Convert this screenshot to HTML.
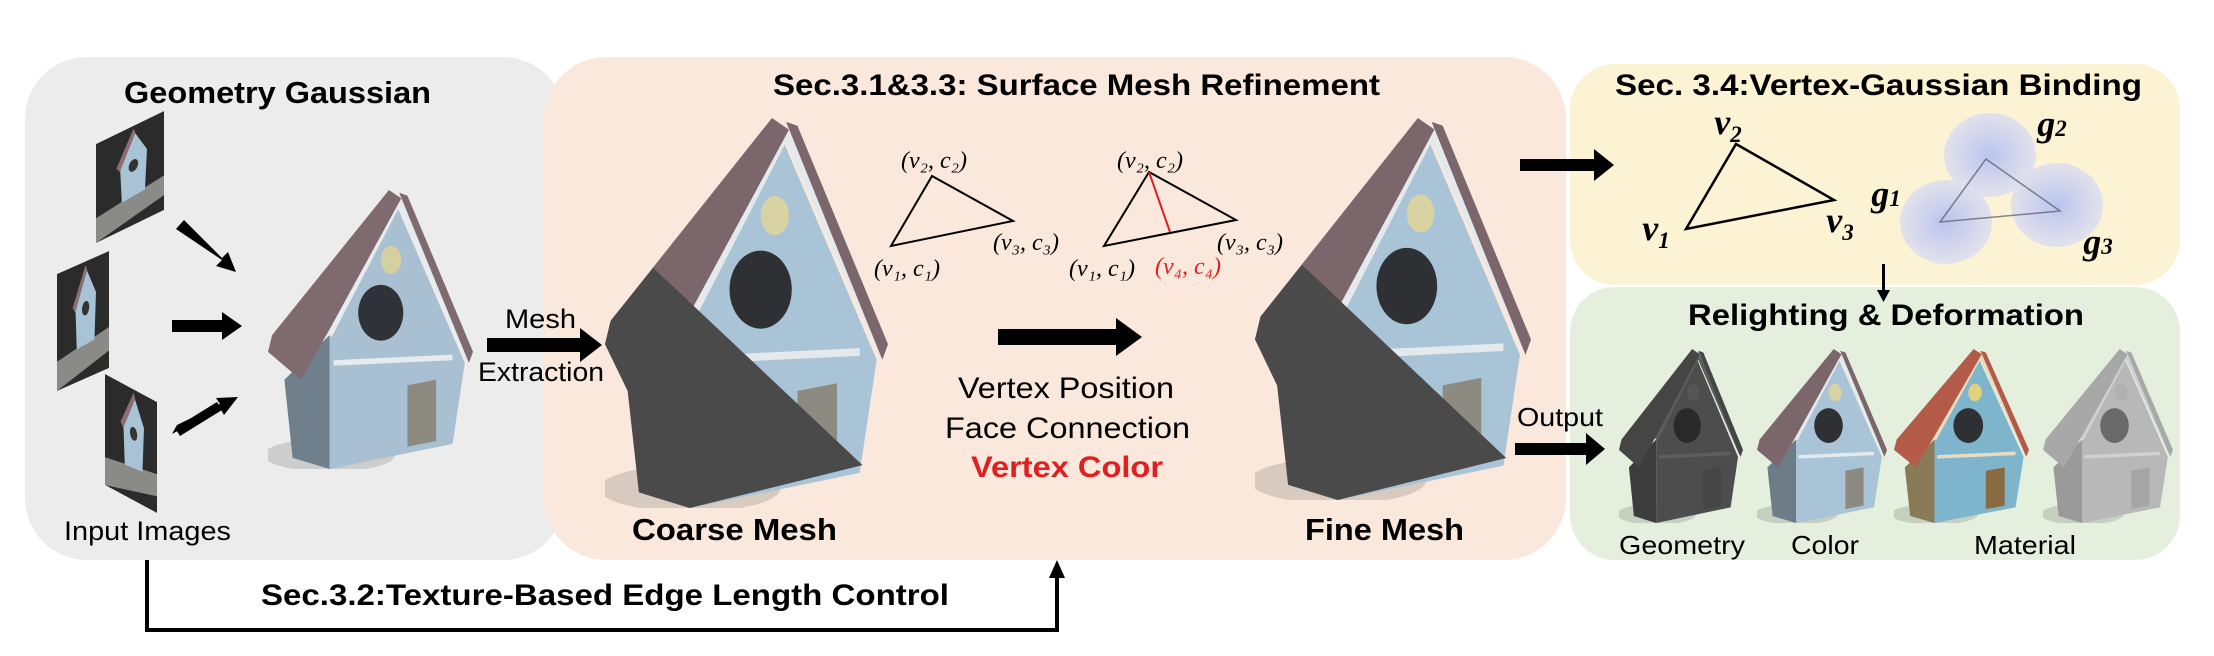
<!DOCTYPE html>
<html><head><meta charset="utf-8"><style>
html,body{margin:0;padding:0;background:#fff}
svg{display:block}
.b{font-family:"Liberation Sans",Arial,sans-serif;font-weight:bold}
.n{font-family:"Liberation Sans",Arial,sans-serif}
.m{font-family:"Liberation Serif",serif;font-style:italic}
</style></head><body>
<svg width="2214" height="656" viewBox="0 0 2214 656" xmlns="http://www.w3.org/2000/svg">
<defs>
<symbol id="house" viewBox="0 0 100 100" preserveAspectRatio="none">
<ellipse cx="30" cy="95" rx="32" ry="6" fill="rgba(0,0,0,0.13)"/>
<polygon points="8,68 30,52 30,100 12,96" style="fill:var(--side)"/>
<polygon points="63,6 96,62 90,91 30,100 30,52" style="fill:var(--wall)"/>
<polyline points="30,52 64,4 98,60" fill="none" style="stroke:var(--trim)" stroke-width="2.5"/>
<line x1="32" y1="62" x2="90" y2="60" style="stroke:var(--trim)" stroke-width="2"/>
<ellipse cx="55" cy="44" rx="11" ry="10" style="fill:var(--hole)"/>
<circle cx="60" cy="25" r="5" style="fill:var(--knob)"/>
<polygon points="68,70 82,68 82,90 68,92" style="fill:var(--door)"/>
<polygon points="59,0 65,3 30,50 16,68 0,58 2,52" style="fill:var(--roof)"/>
<polygon points="64,1 68,2 100,58 98,62" style="fill:var(--roof)"/>
<polygon points="17,38.4 91,89 30,100 12,96 8,70 0,58 2,52" style="fill:#4a4a4a;opacity:var(--ov)"/>
</symbol>
<symbol id="thumb" viewBox="0 0 100 100" preserveAspectRatio="none">
<rect width="100" height="100" fill="#2b2b2b"/>
<polygon points="0,75 100,65 100,85 0,100" fill="#8a8a86"/>
<polygon points="35,30 55,5 75,30 72,70 38,72" fill="#a9c3d6"/>
<polygon points="30,35 55,3 58,8 35,40" fill="#8a6e74"/>
<ellipse cx="55" cy="40" rx="7" ry="6" fill="#333"/>
</symbol>
<radialGradient id="gb"><stop offset="0" stop-color="#b9c3ee"/><stop offset="1" stop-color="#dfe0ee" stop-opacity="0.9"/></radialGradient>
</defs>

<!-- panels -->
<rect x="25" y="57" width="540" height="503" rx="62" fill="#ececec"/>
<rect x="544" y="57" width="1022" height="503" rx="62" fill="#fae8dc"/>
<rect x="1570" y="64" width="610" height="221" rx="45" fill="#fcf3d4"/>
<rect x="1570" y="287" width="610" height="273" rx="45" fill="#e4efdd"/>

<!-- titles -->
<text class="b" x="124" y="103" font-size="31" textLength="307" lengthAdjust="spacingAndGlyphs">Geometry Gaussian</text>
<text class="b" x="773" y="95" font-size="30" textLength="607" lengthAdjust="spacingAndGlyphs">Sec.3.1&amp;3.3:  Surface Mesh Refinement</text>
<text class="b" x="1615" y="95" font-size="30" textLength="527" lengthAdjust="spacingAndGlyphs">Sec. 3.4:Vertex-Gaussian  Binding</text>
<text class="b" x="1688" y="325" font-size="30" textLength="396" lengthAdjust="spacingAndGlyphs">Relighting &amp; Deformation</text>
<text class="b" x="632" y="540" font-size="31" textLength="205" lengthAdjust="spacingAndGlyphs">Coarse Mesh</text>
<text class="b" x="1305" y="540" font-size="31" textLength="159" lengthAdjust="spacingAndGlyphs">Fine Mesh</text>
<text class="n" x="64" y="540" font-size="27" textLength="167" lengthAdjust="spacingAndGlyphs">Input Images</text>
<text class="n" x="505" y="328" font-size="27" textLength="71" lengthAdjust="spacingAndGlyphs">Mesh</text>
<text class="n" x="478" y="381" font-size="27" textLength="126" lengthAdjust="spacingAndGlyphs">Extraction</text>
<text class="n" x="958" y="398" font-size="30" textLength="216" lengthAdjust="spacingAndGlyphs">Vertex Position</text>
<text class="n" x="945" y="438" font-size="30" textLength="245" lengthAdjust="spacingAndGlyphs">Face Connection</text>
<text class="b" x="971" y="477" font-size="30" textLength="192" lengthAdjust="spacingAndGlyphs" fill="#e02020">Vertex Color</text>
<text class="n" x="1517" y="426" font-size="26" textLength="86" lengthAdjust="spacingAndGlyphs">Output</text>
<text class="n" x="1619" y="554" font-size="26" textLength="126" lengthAdjust="spacingAndGlyphs">Geometry</text>
<text class="n" x="1791" y="554" font-size="26" textLength="68" lengthAdjust="spacingAndGlyphs">Color</text>
<text class="n" x="1974" y="554" font-size="26" textLength="102" lengthAdjust="spacingAndGlyphs">Material</text>

<!-- bottom connector -->
<polyline points="147,560 147,630 1057,630 1057,575" fill="none" stroke="#000" stroke-width="4"/>
<polygon points="1049,578 1065,578 1057,560" fill="#000"/>
<text class="b" x="261" y="605" font-size="30" textLength="688" lengthAdjust="spacingAndGlyphs">Sec.3.2:Texture-Based  Edge  Length  Control</text>

<!-- thumbnails -->
<g transform="matrix(0.68,-0.33,0,0.99,96,144)"><use href="#thumb" width="100" height="100"/></g>
<g transform="matrix(0.52,-0.23,0,1.17,57,274)"><use href="#thumb" width="100" height="100"/></g>
<g transform="matrix(0.52,0.28,0,1.11,105,374)"><use href="#thumb" width="100" height="100"/></g>

<!-- arrows -->
<g fill="#000">
<polygon points="176,229 184,220 222,258 228,252 236,272 216,266 222,260"/>
<polygon points="172,320 222,320 222,312 242,326 222,340 222,332 172,332"/>
<polygon points="177,425 172,434 220,408 224,415 238,397 216,398 220,404"/>
<polygon points="175,428 180,436 222,410 217,402"/>
<polygon points="487,338 580,338 580,328 602,345 580,362 580,352 487,352"/>
<polygon points="998,329 1116,329 1116,318 1142,337 1116,356 1116,345 998,345"/>
<polygon points="1520,159 1594,159 1594,149 1614,165 1594,181 1594,171 1520,171"/>
<polygon points="1515,443 1586,443 1586,433 1605,449 1586,465 1586,455 1515,455"/>
<rect x="1882" y="264" width="3" height="28"/>
<polygon points="1877,290 1890,290 1883.5,302"/>
</g>

<!-- houses -->
<g style="--roof:#7f6a70;--side:#6f7f8c;--wall:#a8c0d2;--trim:#e6ecee;--hole:#2f3236;--knob:#d6cfa0;--door:#8d8a80;--ov:0">
<use href="#house" x="268" y="190" width="205" height="279"/>
</g>
<g style="--roof:#7b666c;--side:#555;--wall:#a9c4d6;--trim:#e4eaec;--hole:#2e3034;--knob:#d9d2a2;--door:#8d8a82;--ov:1">
<use href="#house" x="605" y="118" width="283" height="390"/>
<use href="#house" x="1255" y="118" width="276" height="382"/>
</g>
<g style="--roof:#454545;--side:#3c3c3c;--wall:#4d4d4d;--trim:#5d5d5d;--hole:#2a2a2a;--knob:#555;--door:#454545;--ov:0">
<use href="#house" x="1619" y="349" width="124" height="174"/>
</g>
<g style="--roof:#7b666c;--side:#6e7c88;--wall:#a9c4d6;--trim:#e4eaec;--hole:#2e3034;--knob:#d9d2a2;--door:#8d8a82;--ov:0">
<use href="#house" x="1757" y="349" width="130" height="174"/>
</g>
<g style="--roof:#b45a48;--side:#8a7a55;--wall:#7fb5cc;--trim:#e8dcc0;--hole:#2e3034;--knob:#e0d080;--door:#8a6a40;--ov:0">
<use href="#house" x="1894" y="349" width="135" height="174"/>
</g>
<g style="--roof:#a8a8a8;--side:#9a9a9a;--wall:#b8b8b8;--trim:#d0d0d0;--hole:#6a6a6a;--knob:#b0b0b0;--door:#a5a5a5;--ov:0">
<use href="#house" x="2043" y="349" width="130" height="174"/>
</g>

<!-- triangle 1 -->
<polygon points="932,176 891,246 1013,221" fill="none" stroke="#000" stroke-width="2"/>
<text class="m" x="934" y="168" font-size="24" text-anchor="middle">(v₂, c₂)</text>
<text class="m" x="907" y="276" font-size="24" text-anchor="middle">(v₁, c₁)</text>
<text class="m" x="1026" y="250" font-size="24" text-anchor="middle">(v₃, c₃)</text>
<!-- triangle 2 -->
<polygon points="1149,172 1104,246 1236,220" fill="none" stroke="#000" stroke-width="2"/>
<line x1="1149" y1="172" x2="1170" y2="232" stroke="#e02020" stroke-width="2"/>
<text class="m" x="1150" y="168" font-size="24" text-anchor="middle">(v₂, c₂)</text>
<text class="m" x="1102" y="276" font-size="24" text-anchor="middle">(v₁, c₁)</text>
<text class="m" x="1188" y="274" font-size="24" text-anchor="middle" fill="#e02020">(v₄, c₄)</text>
<text class="m" x="1250" y="250" font-size="24" text-anchor="middle">(v₃, c₃)</text>

<!-- binding -->
<ellipse cx="1990" cy="155" rx="46" ry="42" fill="url(#gb)"/>
<ellipse cx="1946" cy="222" rx="46" ry="42" fill="url(#gb)"/>
<ellipse cx="2057" cy="205" rx="46" ry="42" fill="url(#gb)"/>
<polygon points="1986,159 1940,222 2060,211" fill="none" stroke="#556" stroke-width="1.5" opacity="0.7"/>
<polygon points="1736,144 1686,229 1834,200" fill="none" stroke="#000" stroke-width="2.5"/>
<text class="m b" x="1728" y="134" font-size="36" text-anchor="middle">v<tspan font-size="23" dy="8">2</tspan></text>
<text class="m b" x="1656" y="240" font-size="36" text-anchor="middle">v<tspan font-size="23" dy="8">1</tspan></text>
<text class="m b" x="1840" y="232" font-size="36" text-anchor="middle">v<tspan font-size="23" dy="8">3</tspan></text>
<text class="m b" x="1886" y="206" font-size="36" text-anchor="middle">g<tspan font-size="23" dy="0">1</tspan></text>
<text class="m b" x="2052" y="136" font-size="36" text-anchor="middle">g<tspan font-size="23" dy="0">2</tspan></text>
<text class="m b" x="2098" y="254" font-size="36" text-anchor="middle">g<tspan font-size="23" dy="0">3</tspan></text>
</svg>
</body></html>
